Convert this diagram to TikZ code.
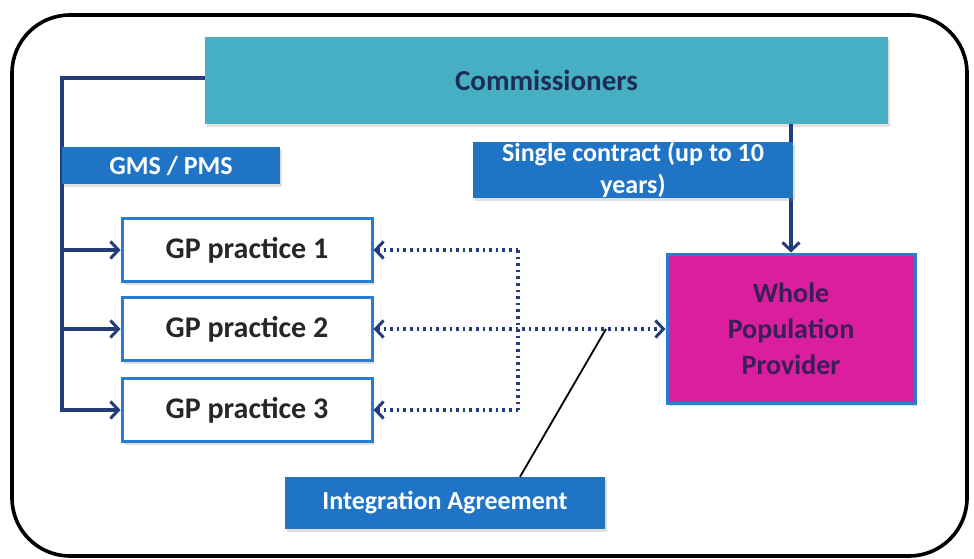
\documentclass[tikz,border=0pt]{standalone}
\usepackage{fontspec}
\setmainfont{Carlito}
\usetikzlibrary{arrows.meta,shadows}
\definecolor{teal1}{HTML}{47AFC4}
\definecolor{lblue}{HTML}{1F74C6}
\definecolor{gpblue}{HTML}{2C7BD2}
\definecolor{magen}{HTML}{DA1E9E}
\definecolor{navy}{HTML}{243C78}
\definecolor{darktxt}{HTML}{1E2D55}
\definecolor{wpptxt}{HTML}{3A1E58}
\tikzset{
  dtip/.tip={Straight Barb[length=8pt,width=17pt,line width=3pt]},
  shd/.style={drop shadow={shadow xshift=2pt,shadow yshift=-3pt,opacity=0.25,fill=gray}},
  labelbox/.style={fill=lblue,draw=none,text=white,font=\bfseries\fontsize{26}{32}\selectfont,inner sep=0pt,align=center,shd},
  gpbox/.style={draw=gpblue,line width=3pt,fill=white,minimum width=250pt,minimum height=63pt,inner sep=0pt,font=\bfseries\fontsize{30}{34}\selectfont,text=black!85,shd},
  conn/.style={draw=navy,line width=3.2pt,-dtip},
  dots/.style={draw=navy,line width=3.2pt,dash pattern=on 2.6pt off 4pt}
}
\begin{document}
\begin{tikzpicture}[x=1pt,y=-1pt]
\useasboundingbox (0,0) rectangle (974,559);
\fill[white] (0,0) rectangle (974,559);
\draw[black,line width=3.6pt,rounded corners=58pt] (12,15) rectangle (967,556);
% nodes
\node[fill=teal1,minimum width=683pt,minimum height=87pt,inner sep=0pt,text=darktxt,font=\bfseries\fontsize{29}{34}\selectfont,shd] (comm) at (546.5,80.5) {Commissioners};
\node[gpbox] (gp1) at (247,250) {GP practice 1};
\node[gpbox] (gp2) at (247,329) {GP practice 2};
\node[gpbox] (gp3) at (247,410) {GP practice 3};
\node[fill=magen,draw=gpblue,line width=3pt,minimum width=248pt,minimum height=149pt,inner sep=0pt,align=center,text=wpptxt,font=\bfseries\fontsize{28}{36}\selectfont,shd] (wpp) at (791,328.5) {Whole\\Population\\Provider};
\coordinate (trunk) at (62,78);
\coordinate (jx) at (518,250);
\coordinate (iaend) at (606,329);
% connectors
\draw[conn] (comm.west |- trunk) -- (trunk) |- (gp3.west);
\draw[conn] (trunk |- gp1.west) -- (gp1.west);
\draw[conn] (trunk |- gp2.west) -- (gp2.west);
\node[labelbox,minimum width=218pt,minimum height=37pt] (gms) at (171,165.5) {GMS / PMS};
\draw[conn] (comm.south -| wpp.north) -- (wpp.north);
\node[labelbox,minimum width=320pt,minimum height=54pt] (sc) at (633,170) {Single contract (up to 10\\years)};
\draw[dots] (jx |- gp1.east) -- (jx |- gp3.east);
\draw[dots,dtip-] (gp1.east) -- (jx |- gp1.east);
\draw[dots,dtip-] (gp3.east) -- (jx |- gp3.east);
\draw[dots,dtip-dtip] (gp2.east) -- (wpp.west |- gp2.east);
\node[labelbox,minimum width=320pt,minimum height=52pt] (ia) at (445,503) {Integration Agreement};
\draw[black,line width=1.8pt] (ia.north -| 520,0) -- (iaend);
\end{tikzpicture}
\end{document}
